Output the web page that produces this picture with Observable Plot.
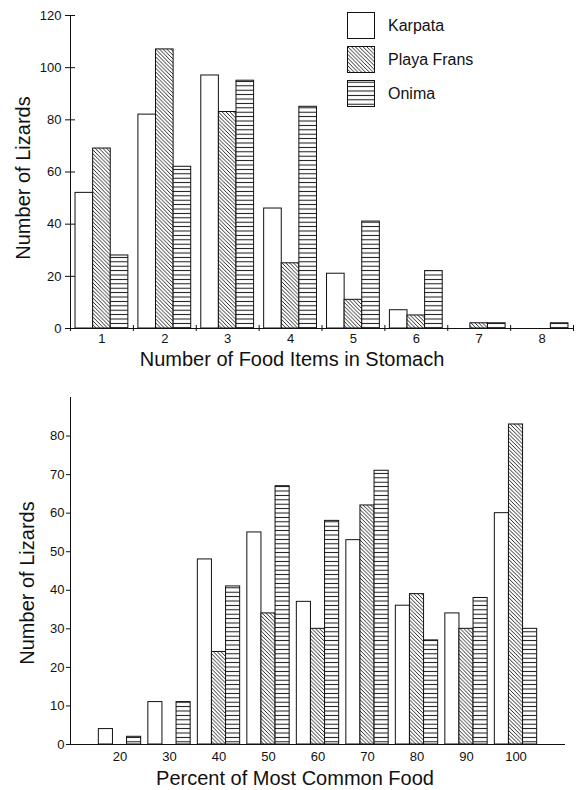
<!DOCTYPE html>
<html><head><meta charset="utf-8">
<script src="https://cdn.jsdelivr.net/npm/d3@7"></script>
<script src="https://cdn.jsdelivr.net/npm/@observablehq/plot@0.6"></script>
<style>
body{margin:0;background:#fff;font-family:"Liberation Sans",Arial,sans-serif;}
#wrap{position:relative;width:579px;height:790px;}
#wrap > svg{display:block}
.legend{position:absolute;left:347px;top:12px;}
.item{display:flex;align-items:center;height:27px;margin-bottom:7px;}
.item svg{margin-right:13px;display:block}
.item span{font-size:16px;color:#111}
</style></head>
<body>
<svg width="0" height="0" style="position:absolute">
<defs>
<pattern id="diag" patternUnits="userSpaceOnUse" width="3.8" height="3.8">
  <rect width="3.8" height="3.8" fill="white"/>
  <path d="M-1,-1 L4.8,4.8 M-1,2.8 L1,4.8 M2.8,-1 L4.8,1" stroke="#111" stroke-width="0.9"/>
</pattern>
<pattern id="horiz" patternUnits="userSpaceOnUse" width="8" height="4.4">
  <rect width="8" height="4.4" fill="white"/>
  <line x1="0" x2="8" y1="2.2" y2="2.2" stroke="#111" stroke-width="1"/>
</pattern>
</defs></svg>
<div id="wrap"></div>
<script>
// ---- data ----
const series = ["Karpata", "Playa Frans", "Onima"];
const seriesFills = ["white", "url(#diag)", "url(#horiz)"];

const foodItems = [1, 2, 3, 4, 5, 6, 7, 8];
const foodKarpata = [52, 82, 97, 46, 21, 7, 0, 0];
const foodPlaya   = [69, 107, 83, 25, 11, 5, 2, 0];
const foodOnima   = [28, 62, 95, 85, 41, 22, 2, 2];
const foodYTicks = [0, 20, 40, 60, 80, 100, 120];

const pctCategories = [20, 30, 40, 50, 60, 70, 80, 90, 100];
const pctKarpata = [4, 11, 48, 55, 37, 53, 36, 34, 60];
const pctPlaya   = [0, 0, 24, 34, 30, 62, 39, 30, 83];
const pctOnima   = [2, 11, 41, 67, 58, 71, 27, 38, 30];
const pctYTicks = [0, 10, 20, 30, 40, 50, 60, 70, 80];

const topXTitle = "Number of Food Items in Stomach";
const bottomXTitle = "Percent of Most Common Food";
const yTitle = "Number of Lizards";

// ---- build rows ----
function toRows(cats, arrays) {
  const out = [];
  cats.forEach((c, i) => arrays.forEach((arr, si) => {
    if (arr[i] > 0) out.push({cat: c, si, series: series[si], value: arr[i]});
  }));
  return out;
}
const topRows = toRows(foodItems, [foodKarpata, foodPlaya, foodOnima]);
const bottomRows = toRows(pctCategories, [pctKarpata, pctPlaya, pctOnima]);

const font = "'Liberation Sans', Arial, sans-serif";
const ink = "#111";
const tickFont = 13;
const titleFont = 20;
const colorScale = {type: "ordinal", domain: series, range: seriesFills};

// ---- top chart ----
const w1 = 0.28;
const bounds = foodItems.map(d => d - 0.5).concat([foodItems[foodItems.length - 1] + 0.5]);
const chartTop = Plot.plot({
  width: 579, height: 370,
  marginLeft: 70, marginRight: 6, marginTop: 15, marginBottom: 42,
  x: {domain: [0.5, 8.5]},
  y: {domain: [0, 120]},
  color: colorScale,
  style: {fontFamily: font, fontSize: "13px", color: ink, background: "white"},
  marks: [
    Plot.rect(topRows, {
      x1: d => d.cat + (d.si - 1.5) * w1,
      x2: d => d.cat + (d.si - 0.5) * w1,
      y1: 0, y2: "value", fill: "series", stroke: ink, strokeWidth: 1
    }),
    Plot.ruleY([0], {stroke: ink}),
    Plot.ruleX([0.5], {stroke: ink}),
    Plot.axisY({ticks: foodYTicks, tickSize: 5, tickPadding: 4, label: null, fontSize: tickFont}),
    Plot.axisY({ticks: foodYTicks, tickSize: 5, tickFormat: () => "", dx: 5, label: null}),
    Plot.axisX({ticks: foodItems, tickSize: 0, tickPadding: 5, label: null, fontSize: tickFont}),
    Plot.axisX({ticks: bounds, tickSize: 6, dy: -3, tickFormat: () => "", label: null}),
    Plot.text([yTitle], {frameAnchor: "left", rotate: -90, textAnchor: "middle", lineAnchor: "middle", dx: -47, dy: 6, fontSize: titleFont, fill: ink}),
    Plot.text([topXTitle], {frameAnchor: "bottom", textAnchor: "middle", lineAnchor: "middle", dx: -30, dy: 31, fontSize: titleFont, fill: ink})
  ]
});

// ---- bottom chart ----
const w2 = 2.85;
const chartBottom = Plot.plot({
  width: 579, height: 420,
  marginLeft: 70, marginRight: 14, marginTop: 27, marginBottom: 46,
  x: {domain: [10, 110]},
  y: {domain: [0, 90]},
  color: colorScale,
  style: {fontFamily: font, fontSize: "13px", color: ink, background: "white"},
  marks: [
    Plot.rect(bottomRows, {
      x1: d => d.cat + (d.si - 1.5) * w2,
      x2: d => d.cat + (d.si - 0.5) * w2,
      y1: 0, y2: "value", fill: "series", stroke: ink, strokeWidth: 1
    }),
    Plot.ruleY([0], {stroke: ink}),
    Plot.ruleX([10], {stroke: ink}),
    Plot.axisY({ticks: pctYTicks, tickSize: 4, tickPadding: 2, label: null, fontSize: tickFont}),
    Plot.axisX({ticks: pctCategories, tickSize: 0, tickPadding: 7, label: null, fontSize: tickFont}),
    Plot.text([yTitle], {frameAnchor: "left", rotate: -90, textAnchor: "middle", lineAnchor: "middle", dx: -43, dy: 12, fontSize: titleFont, fill: ink}),
    Plot.text([bottomXTitle], {frameAnchor: "bottom", textAnchor: "middle", lineAnchor: "middle", dx: -23, dy: 34, fontSize: titleFont, fill: ink})
  ]
});

const wrap = document.getElementById("wrap");
wrap.appendChild(chartTop);
wrap.appendChild(chartBottom);

// ---- legend ----
const legend = document.createElement("div");
legend.className = "legend";
series.forEach((s, i) => {
  const item = document.createElement("div");
  item.className = "item";
  item.innerHTML = `<svg width="28" height="27"><rect x="0.5" y="0.5" width="27" height="26" fill="${seriesFills[i]}" stroke="${ink}" stroke-width="1"/></svg><span>${s}</span>`;
  legend.appendChild(item);
});
wrap.appendChild(legend);
</script>
</body></html>
